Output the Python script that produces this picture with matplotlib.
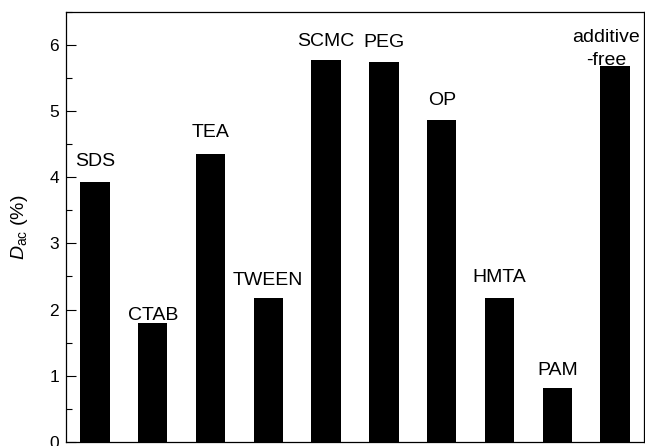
import matplotlib
matplotlib.use("Agg")
import matplotlib.pyplot as plt
from matplotlib.ticker import MultipleLocator

plt.rcParams["font.family"] = ["Liberation Sans", "DejaVu Sans"]
plt.rcParams["mathtext.fontset"] = "custom"
plt.rcParams["mathtext.rm"] = "Liberation Sans"
plt.rcParams["mathtext.it"] = "Liberation Sans:italic"

# Additives and the measured D_ac values (%)
additives = ["SDS", "CTAB", "TEA", "TWEEN", "SCMC", "PEG", "OP", "HMTA", "PAM",
             "additive\n-free"]
d_ac = [3.93, 1.79, 4.36, 2.17, 5.78, 5.75, 4.87, 2.18, 0.81, 5.69]

# Gap (in pixels) between each bar top and its label
label_gap_px = [15, 3, 16, 13, 13, 14, 14, 15, 13, 0]
label_dx_px = [0, 0, 0, 0, 0, 0, 0, 0, 0, -9]

fig = plt.figure(figsize=(6.45, 4.46), dpi=100)
ax = fig.add_axes([66 / 645, 4.2 / 446, 578 / 645, (441.8 - 12) / 446])

x = list(range(len(additives)))
bars = ax.bar(x, d_ac, width=0.51, color="black", edgecolor="black", linewidth=0)

descent_px = 3.5
for xi, val, lab, gap, dx in zip(x, d_ac, additives, label_gap_px, label_dx_px):
    ax.annotate(lab, xy=(xi, val),
                xytext=(dx * 0.72, (gap - descent_px) * 0.72),
                textcoords="offset points", ha="center", va="bottom",
                fontsize=14, linespacing=1.45, multialignment="center")

ax.set_xlim(-0.5, 9.5)
ax.set_ylim(0, 6.5)
ax.set_xticks([])
ax.yaxis.set_major_locator(MultipleLocator(1))
ax.yaxis.set_minor_locator(MultipleLocator(0.5))
ax.tick_params(axis="y", which="major", direction="in", length=7, width=0.8,
               labelsize=12.5, pad=5)
ax.tick_params(axis="y", which="minor", direction="in", length=4, width=0.8)
for sp in ax.spines.values():
    sp.set_linewidth(0.9)

ax.set_ylabel(r"$D_{\mathrm{ac}}$ (%)", fontsize=14)
ax.yaxis.set_label_coords(-0.062, 0.5)

fig.savefig("out.png", dpi=100)
